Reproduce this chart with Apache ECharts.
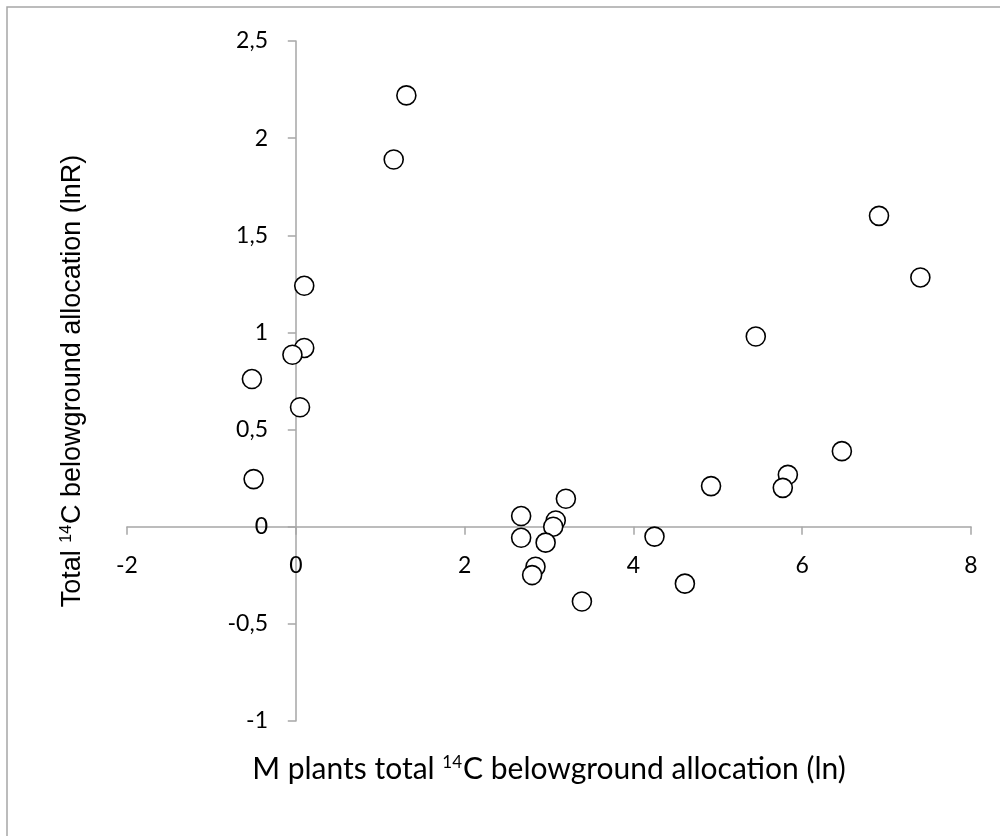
<!DOCTYPE html>
<html>
<head>
<meta charset="utf-8">
<script src="https://cdn.jsdelivr.net/npm/echarts@6/dist/echarts.min.js"></script>
<style>
html,body{margin:0;padding:0;background:#fff;}
#chart{width:1000px;height:836px;}
</style>
</head>
<body>
<div id="chart"></div>
<script>
// Data
const xValues = [1.31, 1.16, 0.10, 0.10, -0.04, -0.52, 0.05, -0.50,
  2.67, 2.67, 3.20, 3.08, 3.05, 2.96, 2.84, 2.80, 3.39, 4.25, 4.61, 4.92,
  6.91, 7.40, 5.45, 6.47, 5.83, 5.77];
const yValues = [2.22, 1.89, 1.24, 0.92, 0.885, 0.76, 0.615, 0.245,
  0.055, -0.057, 0.144, 0.032, 0.0, -0.082, -0.206, -0.249, -0.385, -0.051, -0.293, 0.209,
  1.60, 1.283, 0.979, 0.389, 0.267, 0.200];
const xTicks = [-2, 0, 2, 4, 6, 8];
const yTicks = [-1, -0.5, 0, 0.5, 1, 1.5, 2, 2.5];

const points = xValues.map((x, i) => [x, yValues[i]]);
const fmt = v => String(v).replace('.', ',');
const font = 'Lato, "Open Sans", sans-serif';
const fontY = '"Liberation Sans", Arial, sans-serif';

const chart = echarts.init(document.getElementById('chart'), null, {renderer: 'canvas'});
chart.setOption({
  backgroundColor: '#fff',
  animation: false,
  graphic: [
    {type: 'polyline', shape: {points: [[7, 840], [7, 7], [1010, 7]]},
     style: {stroke: '#a6a6a6', lineWidth: 1.5, fill: null}, silent: true}
  ],
  grid: {left: 127, right: 29, top: 41, bottom: 115, containLabel: false, outerBoundsMode: 'none'},
  xAxis: {
    type: 'value',
    min: xTicks[0], max: xTicks[xTicks.length - 1], interval: 2,
    axisLine: {onZero: true, lineStyle: {color: '#a6a6a6', width: 1.5}},
    axisTick: {show: true, inside: false, length: 8, lineStyle: {color: '#a6a6a6', width: 1.5}},
    splitLine: {show: false},
    axisLabel: {color: '#000', fontSize: 23, fontFamily: font, margin: -167,
      hideOverlap: false, formatter: v => fmt(v)},
    name: '{a|M plants total }{sup|14}{a|C belowground allocation (ln)}',
    nameLocation: 'middle',
    nameGap: 33,
    nameMoveOverlap: false,
    nameTextStyle: {
      rich: {
        a: {fontSize: 30, fontFamily: font, color: '#000'},
        sup: {fontSize: 17, fontFamily: font, color: '#000', verticalAlign: 'top', padding: [0, 1, 12, 0]}
      }
    }
  },
  yAxis: {
    type: 'value',
    min: yTicks[0], max: yTicks[yTicks.length - 1], interval: 0.5,
    axisLine: {onZero: true, lineStyle: {color: '#a6a6a6', width: 1.5}},
    axisTick: {show: true, inside: false, length: 8, lineStyle: {color: '#a6a6a6', width: 1.5}},
    splitLine: {show: false},
    axisLabel: {color: '#000', fontSize: 23, fontFamily: font, margin: -141,
      hideOverlap: false, formatter: v => fmt(v)},
    name: '{a|Total }{sup|14}{a|C belowground allocation (lnR)}',
    nameLocation: 'middle',
    nameGap: 41,
    nameMoveOverlap: false,
    nameTextStyle: {
      rich: {
        a: {fontSize: 27, fontFamily: fontY, color: '#000'},
        sup: {fontSize: 16, fontFamily: fontY, color: '#000', verticalAlign: 'top', padding: [0, 1, 11, 0]}
      }
    }
  },
  series: [{
    type: 'scatter',
    data: points,
    symbol: 'circle',
    symbolSize: 19,
    itemStyle: {color: '#fff', borderColor: '#000', borderWidth: 1.6, opacity: 1}
  }]
});
</script>
</body>
</html>
